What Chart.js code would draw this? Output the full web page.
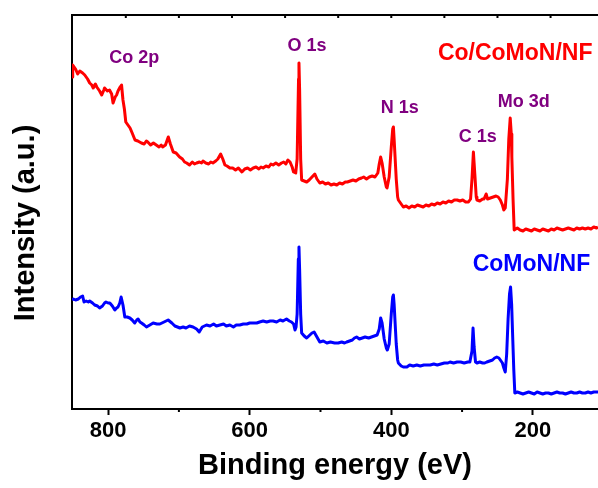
<!DOCTYPE html>
<html>
<head>
<meta charset="utf-8">
<script src="https://cdn.jsdelivr.net/npm/chart.js@4/dist/chart.umd.min.js"></script>
<style>
  html, body { margin: 0; padding: 0; background: #fff; }
  #wrap { width: 598px; height: 488px; position: relative; }
</style>
</head>
<body>
<div id="wrap"><canvas id="xps"></canvas></div>
<script>
// XPS survey spectra, binding energy (eV) vs intensity (a.u.)
const coCoMoNNF = [
  [851,332],[850,344],[846,340],[843,335],[840,338],[836,336],[833,334],[829,330],[826,326],[823,324],
  [821,321],[818,325],[816,322],[812,318],[809,314],[806,319],[805,321],[801,318],[798,319],[795,315],
  [793,306],[790,312],[788,314],[786,318],[783,322],[781,324],[779,309],[777,300],[775,287],[772,284],
  [769,281],[766,276],[762,269],[758,268],[753,266],[749,265],[746,268],[744,267],[740,264],[736,266],
  [732,264],[728,262],[725,264],[723,262],[719,264],[717,268],[715,272],[712,265],[708,257],[704,256],
  [699,252],[695,250],[692,247],[689,246],[685,244],[681,247],[678,245],[675,246],[671,247],[668,246],
  [666,248],[662,246],[658,245],[655,247],[652,246],[648,248],[645,250],[641,255],[638,250],[635,244],
  [632,243],[628,241],[624,241],[620,239],[616,241],[611,237],[607,240],[603,241],[599,239],[595,241],
  [591,242],[587,240],[584,242],[581,241],[577,243],[573,242],[570,245],[567,244],[563,246],[559,244],
  [555,246],[552,247],[549,245],[546,249],[543,247],[540,242],[538,237],[535,236],[533,250],[531,330],
  [530.4,346],[529.5,320],[528,250],[526.6,229],[523,228],[519.5,227],[516,229],[512,232],[508,235],[505,230],
  [501,226],[497,227],[493,225],[489,226],[485,224],[481,225],[477,224],[473,226],[469,225],[465,227],
  [462,227],[458,228],[454,229],[450,228],[446,230],[442,231],[439,232],[435,230],[431,232],[427,233],
  [423,232],[419,236],[417,245],[415,252],[413,246],[410,232],[407,222],[406,221],[403,232],[400,262],
  [398,280],[397,282],[396,270],[393,230],[391,212],[390,209],[386,205],[383,202],[379,203],[375,201],
  [371,203],[367,202],[363,204],[359,203],[355,202],[351,204],[347,203],[343,205],[339,204],[335,206],
  [331,205],[327,207],[323,206],[319,208],[315,207],[311,209],[307,209],[303,208],[299,209],[295,207],
  [291,207],[288,210],[286,230],[284,257],[282,235],[280,212],[279,209],[275,208],[271,210],[269,210],
  [266,215],[264,210],[260,211],[256,212],[252,213],[249,212],[246,209],[243,204],[241,199],[239,201],
  [236,230],[234,270],[232,291],[230.5,275],[229.7,252],[228,210],[226.4,179],[222,181],[218,179],[214,178],
  [210,180],[206,179],[202,178],[198,180],[194,179],[190,178],[186,180],[182,179],[178,178],[174,180],
  [170,179],[166,181],[162,180],[158,179],[154,180],[150,181],[146,180],[142,179],[138,181],[134,180],
  [130,181],[126,180],[122,181],[118,180],[114,182],[110,181],[108,182]
];

const coMoNNF = [
  [851,109],[849,110],[846,109],[842,110],[839,112],[836,113],[834,107],[831,108],[828,107],[826,108],
  [822,106],[819,104],[815,103],[812,101],[808,103],[805,106],[803,107],[800,106],[797.6,106],[794,103],
  [790.5,99],[788,101],[786,102],[783.5,106],[781.6,112],[779,104],[776.4,92],[773,92],[769.3,91],[766,89],
  [762.4,86],[759.5,89],[757.6,90],[755,87],[752.8,86],[749,84],[745.8,82],[741,84],[736.4,86],[731,85],
  [726.9,85],[721,87],[715.2,89],[710,86],[705.7,83],[702,82],[698.6,81],[694,82],[690,81],[685,83],
  [680,82],[675,80],[671.3,77],[667,82],[661,84],[656,83],[651,85],[647,83],[642,84],[637,85],
  [633,83],[628,84],[623,82],[619,84],[614,84],[609,85],[604,85],[600,86],[595,86],[590,86],
  [586,87],[581,88],[576,87],[571,88],[567,88],[562,87],[557,89],[553,88],[548,90],[544,88],
  [541,87],[538,85],[536,79],[534.5,82],[533,95],[531.3,150],[530.4,162],[529.5,140],[528,95],[526.6,76],
  [523,73],[519.5,71],[515,74],[512,76],[509,77],[505,72],[501,67],[496,68],[491,66],[486,67],
  [480,66],[475,66],[470,67],[466,66],[463,67],[459,68],[455,69],[452,71],[449,72],[445,70],
  [441,71],[437,72],[432,71],[428,72],[424,73],[420,74],[417,80],[415,91],[413,86],[410,70],
  [407,61],[405.6,59],[403,65],[400,95],[398,112],[397,114],[396,105],[393,65],[391,49],[390,46],
  [386,43],[383,42],[378,42],[374,44],[369,43],[364,44],[359,43],[354,44],[350,44],[345,44],
  [340,45],[335,44],[330,45],[325,46],[320,46],[317,47],[312,46],[307,47],[302,47],[297,46],
  [292,47],[289,47],[286,58],[284.5,81],[283,62],[281,47],[279,46],[275,47],[271,46],[268,46],
  [265,47],[261,48],[257,49],[254,51],[251,52],[248,51],[246,49],[243,46],[241,41],[239,37],
  [237,55],[235,90],[233,115],[231.5,122],[230,105],[228.5,72],[227,40],[225.5,16],[222,17],[218,16],
  [214,15],[210,16],[206,17],[202,16],[198,15],[194,17],[190,16],[186,15],[182,16],[178,16],
  [174,15],[170,16],[166,17],[162,16],[158,16],[154,15],[150,16],[146,17],[142,16],[138,16],
  [134,17],[130,16],[126,16],[122,17],[118,16],[114,17],[110,17],[108,17]
];

const xTicks = [800, 600, 400, 200];
const xMinorTicks = [700, 500, 300];
const topTicks = [775, 700, 625, 550, 475, 400, 325, 250, 175];

// peak labels and sample names, anchored in data coordinates [eV, intensity]
const peakLabels = [
  ['Co 2p', 763, 351], ['O 1s', 519, 363], ['N 1s', 388, 301], ['C 1s', 278, 272], ['Mo 3d', 213, 307]
];
const sampleLabels = [
  ['Co/CoMoN/NF', 225, 355, '#ff0000'], ['CoMoN/NF', 202, 144, '#0000ff']
];

const FONT = '"Liberation Sans", Arial, sans-serif';

const decorations = {
  id: 'decorations',
  afterDraw(chart) {
    const { ctx, chartArea: a, scales: { x, y } } = chart;
    ctx.save();
    ctx.strokeStyle = '#000';
    ctx.lineWidth = 2;
    // top frame with small inward ticks
    ctx.beginPath();
    ctx.moveTo(a.left - 1, a.top);
    ctx.lineTo(a.right, a.top);
    topTicks.forEach(v => { const px = x.getPixelForValue(v); ctx.moveTo(px, a.top); ctx.lineTo(px, a.top + 3); });
    // minor ticks on the bottom axis
    xMinorTicks.forEach(v => { const px = x.getPixelForValue(v); ctx.moveTo(px, a.bottom); ctx.lineTo(px, a.bottom + 3); });
    ctx.stroke();

    ctx.textAlign = 'center';
    ctx.textBaseline = 'middle';
    ctx.font = 'bold 18px ' + FONT;
    ctx.fillStyle = '#800080';
    peakLabels.forEach(([t, ev, v]) => ctx.fillText(t, x.getPixelForValue(ev), y.getPixelForValue(v)));
    ctx.font = 'bold 23px ' + FONT;
    sampleLabels.forEach(([t, ev, v, c]) => { ctx.fillStyle = c; ctx.fillText(t, x.getPixelForValue(ev), y.getPixelForValue(v)); });

    // y axis title
    ctx.fillStyle = '#000';
    ctx.font = 'bold 29px ' + FONT;
    ctx.translate(26, 223);
    ctx.rotate(-Math.PI / 2);
    ctx.fillText('Intensity (a.u.)', 0, 0);
    ctx.restore();
  }
};

const toPoints = arr => arr.map(([ev, v]) => ({ x: ev, y: v }));

new Chart(document.getElementById('xps'), {
  type: 'line',
  data: {
    datasets: [
      { label: 'Co/CoMoN/NF', data: toPoints(coCoMoNNF), borderColor: '#ff0000', borderWidth: 3, borderJoinStyle: 'round', pointRadius: 0, tension: 0 },
      { label: 'CoMoN/NF', data: toPoints(coMoNNF), borderColor: '#0000ff', borderWidth: 3, borderJoinStyle: 'round', pointRadius: 0, tension: 0 }
    ]
  },
  options: {
    responsive: true,
    maintainAspectRatio: false,
    animation: false,
    layout: { padding: { top: 15, right: 0, left: 0, bottom: 0 } },
    plugins: { legend: { display: false }, tooltip: { enabled: false } },
    scales: {
      x: {
        type: 'linear',
        reverse: true,
        min: 108,
        max: 851,
        afterFit: s => { s.height = 79; },
        afterBuildTicks: s => { s.ticks = xTicks.map(v => ({ value: v })); },
        border: { display: true, color: '#000', width: 2 },
        grid: { display: true, drawOnChartArea: false, drawTicks: true, tickLength: 6, tickWidth: 2, tickColor: '#000' },
        ticks: { autoSkip: false, maxRotation: 0, color: '#000', padding: 3, font: { family: FONT, size: 22, weight: 'bold' } },
        title: { display: true, text: 'Binding energy (eV)', color: '#000', padding: { top: 0, bottom: 5 }, font: { family: FONT, size: 29, weight: 'bold' } }
      },
      y: {
        min: 0,
        max: 394,
        afterFit: s => { s.width = 72; },
        border: { display: true, color: '#000', width: 2 },
        grid: { display: false },
        ticks: { display: false }
      }
    }
  },
  plugins: [decorations]
});
</script>
</body>
</html>
